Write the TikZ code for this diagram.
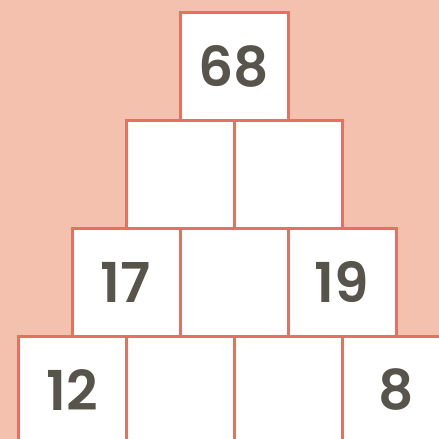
\documentclass[tikz,border=0pt]{standalone}
\usepackage{fontspec}
\setmainfont{Poppins}[BoldFont={Poppins SemiBold}]
\usetikzlibrary{positioning}
\definecolor{bgpink}{HTML}{F4C1AF}
\definecolor{cellred}{HTML}{E8705E}
\definecolor{numgray}{HTML}{57544C}

\begin{document}
\begin{tikzpicture}[
    x=1pt, y=-1pt,
    node distance=0pt,
    cell/.style={draw=cellred, fill=white, line width=3pt, minimum size=108pt, inner sep=0pt, outer sep=0pt, text=numgray, font=\fontsize{55}{55}\selectfont\bfseries}
]
\useasboundingbox (0,0) rectangle (439,439);
\clip (0,0) rectangle (439,439);
\fill[bgpink] (0,0) rectangle (439,439);

% top
\node[cell] (top) at (234,66) {68};
% second row
\node[cell, anchor=north east] (r2a) at (top.south) {};
\node[cell, right=of r2a] (r2b) {};
% third row
\node[cell, anchor=north] (r3b) at (r2a.south east) {};
\node[cell, left=of r3b] (r3a) {17};
\node[cell, right=of r3b] (r3c) {19};
% bottom row
\node[cell, anchor=north east] (r4b) at (r3b.south) {};
\node[cell, left=of r4b] (r4a) {12};
\node[cell, right=of r4b] (r4c) {};
\node[cell, right=of r4c] (r4d) {8};
\end{tikzpicture}
\end{document}
